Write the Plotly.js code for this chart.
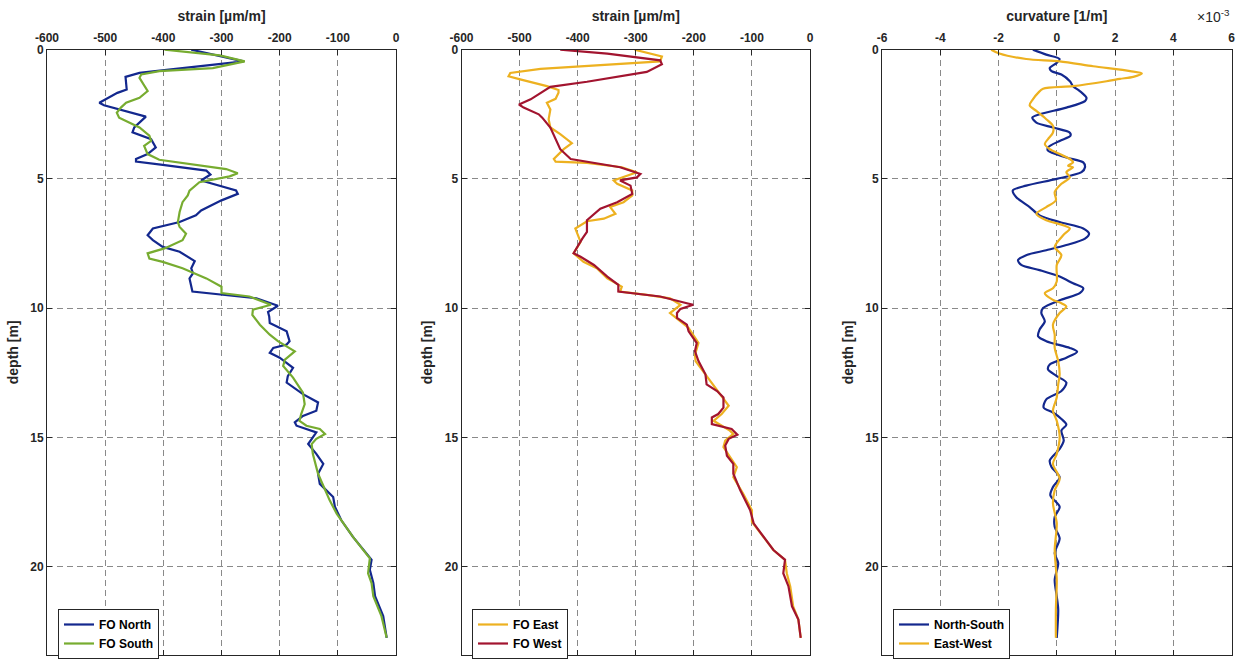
<!DOCTYPE html>
<html>
<head>
<meta charset="utf-8">
<script src="https://cdn.plot.ly/plotly-3.0.1.min.js"></script>
<style>
html,body{margin:0;padding:0;background:#fff;}
#chart{width:1239px;height:659px;}
</style>
</head>
<body>
<div id="chart"></div>
<script>
// ---------- data ----------
// Panel 1: strain, FO North / FO South
const northDepth = [0, 0.45, 0.9, 1.05, 1.54, 1.67, 2.05, 2.15, 2.59, 3.01, 3.2, 3.46, 3.78, 4.04, 4.23, 4.33, 4.46, 4.68, 4.83, 5.06, 5.45, 5.58, 5.83, 6.22, 6.41, 6.67, 6.92, 7.18, 7.37, 7.63, 7.82, 8.08, 8.18, 8.46, 8.65, 8.85, 9.36, 9.62, 9.91, 10.15, 10.32, 10.58, 10.9, 11.28, 11.41, 11.54, 11.73, 11.92, 12.31, 12.63, 12.88, 13.33, 13.65, 13.97, 14.17, 14.42, 14.55, 14.81, 15.26, 15.64, 16.03, 16.41, 16.8, 17.31, 17.69, 18.21, 18.85, 19.74, 20.13, 20.64, 21.15, 21.92, 22.76];
const northStrain = [-352, -262, -441, -465, -463, -479, -510, -502, -430, -450, -453, -421, -413, -427, -447, -447, -401, -326, -319, -335, -275, -272, -300, -335, -344, -372, -418, -427, -418, -401, -372, -352, -346, -352, -349, -355, -350, -240, -203, -220, -218, -217, -188, -183, -188, -211, -217, -200, -177, -186, -188, -160, -134, -137, -160, -174, -171, -137, -151, -137, -125, -134, -131, -108, -105, -94, -74, -42, -45, -39, -36, -22, -16];
const southDepth = [0, 0.22, 0.45, 0.71, 0.83, 0.96, 1.09, 1.28, 1.6, 1.86, 2.05, 2.24, 2.44, 2.63, 3.01, 3.33, 3.53, 3.72, 4.04, 4.26, 4.42, 4.62, 4.78, 4.9, 5.13, 5.45, 5.64, 5.9, 6.28, 6.67, 6.86, 7.12, 7.37, 7.69, 7.88, 8.08, 8.21, 8.46, 8.85, 9.17, 9.42, 9.55, 9.87, 10.06, 10.26, 10.64, 11.03, 11.28, 11.67, 11.99, 12.24, 12.69, 13.27, 13.72, 14.1, 14.36, 14.55, 14.68, 14.87, 15.06, 15.26, 15.64, 16.41, 17.05, 17.44, 17.95, 18.85, 19.68, 20.26, 20.64, 21.15, 21.92, 22.76];
const southStrain = [-398, -303, -260, -315, -407, -438, -441, -436, -427, -441, -464, -473, -480, -476, -441, -424, -421, -433, -427, -407, -355, -292, -272, -286, -338, -355, -358, -367, -372, -375, -372, -361, -367, -398, -427, -424, -401, -367, -326, -300, -300, -252, -215, -246, -247, -234, -217, -203, -174, -191, -194, -177, -160, -157, -163, -166, -154, -131, -122, -137, -145, -143, -134, -122, -114, -102, -74, -45, -48, -42, -39, -25, -16];

// Panel 2: strain, FO East / FO West
const eastDepth = [0, 0.26, 0.45, 0.58, 0.74, 0.9, 1.03, 1.15, 1.41, 1.56, 1.67, 1.9, 2.05, 2.31, 2.69, 3.01, 3.27, 3.62, 3.85, 4.23, 4.33, 4.38, 4.55, 4.74, 4.87, 5.06, 5.19, 5.45, 5.64, 5.9, 6.09, 6.35, 6.54, 6.64, 6.92, 7.12, 7.44, 7.88, 8.21, 8.46, 8.85, 9.17, 9.36, 9.49, 9.62, 9.87, 10.06, 10.19, 10.51, 10.77, 11.35, 11.8, 12.05, 12.56, 13.21, 13.78, 14.1, 14.36, 14.74, 14.87, 15.13, 15.38, 16.15, 16.54, 17.18, 17.82, 18.27, 19.36, 19.74, 20.26, 20.77, 21.54, 22.05, 22.76];
const eastStrain = [-302, -255, -258, -349, -464, -516, -519, -499, -453, -433, -433, -438, -453, -447, -450, -447, -430, -410, -424, -441, -438, -384, -324, -298, -315, -338, -332, -306, -306, -321, -344, -335, -355, -384, -404, -401, -395, -407, -390, -367, -349, -324, -327, -281, -241, -223, -235, -241, -223, -209, -192, -198, -197, -180, -158, -140, -152, -166, -138, -132, -146, -149, -126, -132, -115, -100, -100, -63, -43, -40, -34, -29, -20, -16];
const westDepth = [0, 0.15, 0.41, 0.56, 0.86, 1.12, 1.24, 1.44, 1.67, 1.92, 2.12, 2.24, 2.5, 2.63, 3.01, 3.46, 3.85, 4.23, 4.36, 4.55, 4.81, 4.94, 5.06, 5.26, 5.58, 5.9, 6.15, 6.41, 6.6, 7.05, 7.31, 7.76, 7.88, 8.01, 8.33, 8.78, 9.1, 9.36, 9.55, 9.81, 9.87, 10.03, 10.19, 10.38, 10.64, 10.9, 11.35, 11.67, 12.05, 12.56, 12.95, 13.21, 13.46, 13.85, 14.1, 14.23, 14.49, 14.68, 14.9, 15.06, 15.32, 15.71, 16.03, 16.41, 17.05, 17.82, 18.33, 19.36, 19.74, 20.26, 20.77, 21.54, 22.05, 22.76];
const westStrain = [-430, -349, -258, -255, -281, -349, -384, -447, -464, -481, -501, -493, -467, -461, -447, -438, -430, -412, -378, -327, -292, -298, -327, -309, -306, -332, -361, -375, -384, -384, -392, -404, -407, -395, -372, -349, -330, -330, -258, -212, -201, -223, -229, -229, -212, -209, -195, -198, -192, -180, -178, -160, -149, -149, -158, -169, -169, -135, -125, -140, -146, -143, -132, -132, -120, -103, -97, -63, -43, -46, -37, -31, -20, -16];

// Panel 3: curvature (x 10^-3 1/m), North-South / East-West
const nsDepth = [0, 0.19, 0.36, 0.51, 0.71, 0.83, 0.96, 1.22, 1.41, 1.6, 1.86, 1.99, 2.24, 2.5, 2.63, 2.82, 3.01, 3.21, 3.33, 3.53, 3.78, 3.91, 4.17, 4.36, 4.55, 4.74, 5.0, 5.26, 5.45, 5.71, 6.09, 6.41, 6.67, 6.92, 7.12, 7.31, 7.56, 7.76, 7.95, 8.14, 8.33, 8.53, 8.78, 9.04, 9.23, 9.42, 9.68, 10.0, 10.19, 10.51, 10.83, 11.09, 11.28, 11.54, 11.69, 11.92, 12.18, 12.37, 12.63, 12.88, 13.21, 13.53, 13.85, 14.04, 14.29, 14.51, 14.74, 15.13, 15.45, 15.9, 16.15, 16.54, 16.92, 17.24, 17.69, 18.08, 18.46, 18.91, 19.49, 19.87, 20.51, 21.15, 21.67, 22.76];
const nsCurv = [-0.82, -0.36, 0.1, 0, -0.24, -0.18, 0.16, 0.45, 0.56, 0.79, 1.02, 0.97, 0.33, -0.59, -0.84, -0.7, -0.13, 0.45, 0.47, 0.1, -0.3, -0.3, 0.33, 0.91, 0.97, 0.85, 0, -1.05, -1.51, -1.39, -0.93, -0.59, 0.1, 0.91, 1.11, 0.97, 0.33, -0.36, -1.05, -1.33, -1.22, -0.59, 0.1, 0.56, 0.91, 0.79, 0.15, -0.47, -0.53, -0.41, -0.59, -0.64, -0.36, 0.45, 0.7, 0.33, -0.24, -0.3, 0, 0.33, 0.16, -0.36, -0.45, -0.13, 0.16, 0.33, 0.16, 0.24, 0.1, -0.24, -0.18, 0.1, -0.13, -0.22, 0.1, -0.07, -0.07, 0.1, -0.07, 0.05, -0.07, 0, 0.05, 0];
const ewDepth = [0, 0.15, 0.36, 0.45, 0.64, 0.83, 0.92, 1.05, 1.13, 1.22, 1.41, 1.51, 1.67, 1.92, 2.15, 2.37, 2.69, 2.95, 3.21, 3.46, 3.65, 3.85, 4.04, 4.23, 4.36, 4.49, 4.55, 4.74, 4.94, 5.19, 5.51, 5.83, 6.09, 6.35, 6.6, 6.79, 6.92, 7.18, 7.63, 7.95, 8.33, 8.97, 9.23, 9.42, 9.68, 9.81, 9.94, 10.19, 10.64, 11.03, 11.54, 12.05, 12.56, 12.95, 13.46, 13.97, 14.36, 15.0, 15.64, 16.03, 16.6, 17.05, 17.56, 18.33, 19.36, 20.51, 21.67, 22.76];
const ewCurv = [-2.25, -1.97, -1.05, 0.1, 1.25, 2.52, 2.92, 2.63, 2.17, 1.71, 0.56, -0.47, -0.64, -0.82, -0.93, -0.7, -0.36, -0.13, -0.13, -0.3, -0.41, -0.24, 0.1, 0.45, 0.56, 0.39, 0.56, 0.33, 0.45, 0.16, -0.07, -0.03, -0.36, -0.7, -0.36, 0.22, 0.45, 0.22, -0.07, 0.16, 0, 0, -0.13, -0.41, -0.13, 0.16, 0.33, 0.1, -0.13, -0.07, -0.07, 0.05, 0.1, 0.05, 0, -0.13, 0, 0.1, 0, -0.13, 0.1, -0.07, -0.13, 0, -0.07, 0, -0.03, -0.03];

// tick labels
const strainTicks = [-600, -500, -400, -300, -200, -100, 0];
const strainTickText = ['-600', '-500', '-400', '-300', '-200', '-100', '0'];
const curvTicks = [-6, -4, -2, 0, 2, 4, 6];
const curvTickText = ['-6', '-4', '-2', '0', '2', '4', '6'];
const depthTicks = [0, 5, 10, 15, 20];
const depthTickText = ['0', '5', '10', '15', '20'];

// ---------- styling ----------
const W = 1239, H = 659;
const FONT = 'Liberation Sans, Arial, Helvetica, sans-serif';
const INK = '#262626';
const C_BLUE = '#13288e', C_GREEN = '#77ac30', C_ORANGE = '#edb120', C_RED = '#a2142f';

const plotTop = 50;
const depthMax = (H - plotTop) / 26;  // 26 px per metre
const yDom = [0, 1 - plotTop / H];

function xAxis(l, r, range, tv, tt, title) {
  return {
    domain: [l / W, r / W], range: range, side: 'top',
    tickmode: 'array', tickvals: tv, ticktext: tt,
    ticks: 'inside', ticklen: 5, tickwidth: 1, tickcolor: INK,
    ticklabelstandoff: 2,
    showline: true, linecolor: INK, linewidth: 1, mirror: 'allticks',
    showgrid: true, gridcolor: '#8a8a8a', gridwidth: 1, griddash: '6px,4px',
    zeroline: false, fixedrange: true,
    tickfont: {family: FONT, size: 12, color: INK, weight: 'bold'},
    title: {text: title, font: {family: FONT, size: 14, color: INK, weight: 'bold'}, standoff: 5}
  };
}
function yAxis() {
  return {
    domain: yDom, range: [depthMax, 0],
    tickmode: 'array', tickvals: depthTicks, ticktext: depthTickText,
    ticks: 'inside', ticklen: 5, tickwidth: 1, tickcolor: INK,
    showline: true, linecolor: INK, linewidth: 1, mirror: 'allticks',
    showgrid: true, gridcolor: '#8a8a8a', gridwidth: 1, griddash: '6px,4px',
    zeroline: false, fixedrange: true,
    tickfont: {family: FONT, size: 12, color: INK, weight: 'bold'},
    title: {text: 'depth [m]', font: {family: FONT, size: 14, color: INK, weight: 'bold'}, standoff: 8}
  };
}
function legendBox(x) {
  return {
    x: x / W, y: 1 - 613 / H, xanchor: 'left', yanchor: 'top',
    bgcolor: '#ffffff', bordercolor: INK, borderwidth: 1,
    font: {family: FONT, size: 12, color: '#000', weight: 'bold'},
    tracegroupgap: 0, itemclick: false
  };
}

const traces = [
  {x: northStrain, y: northDepth, name: 'FO North', xaxis: 'x', yaxis: 'y', legend: 'legend', mode: 'lines', line: {color: C_BLUE, width: 2.2}},
  {x: southStrain, y: southDepth, name: 'FO South', xaxis: 'x', yaxis: 'y', legend: 'legend', mode: 'lines', line: {color: C_GREEN, width: 2.2}},
  {x: eastStrain, y: eastDepth, name: 'FO East', xaxis: 'x2', yaxis: 'y2', legend: 'legend2', mode: 'lines', line: {color: C_ORANGE, width: 2.2}},
  {x: westStrain, y: westDepth, name: 'FO West', xaxis: 'x2', yaxis: 'y2', legend: 'legend2', mode: 'lines', line: {color: C_RED, width: 2.2}},
  {x: nsCurv, y: nsDepth, name: 'North-South', xaxis: 'x3', yaxis: 'y3', legend: 'legend3', mode: 'lines', line: {color: C_BLUE, width: 2.2, shape: 'spline', smoothing: 0.8}},
  {x: ewCurv, y: ewDepth, name: 'East-West', xaxis: 'x3', yaxis: 'y3', legend: 'legend3', mode: 'lines', line: {color: C_ORANGE, width: 2.2, shape: 'spline', smoothing: 0.8}}
];

const layout = {
  width: W, height: H,
  margin: {l: 0, r: 0, t: 0, b: 0},
  paper_bgcolor: '#ffffff', plot_bgcolor: '#ffffff',
  showlegend: true,
  font: {family: FONT, color: INK},
  xaxis: Object.assign(xAxis(47, 396, [-600, 0], strainTicks, strainTickText, 'strain [µm/m]'), {anchor: 'y'}),
  yaxis: Object.assign(yAxis(), {anchor: 'x'}),
  xaxis2: Object.assign(xAxis(461.5, 810, [-600, 0], strainTicks, strainTickText, 'strain [µm/m]'), {anchor: 'y2'}),
  yaxis2: Object.assign(yAxis(), {anchor: 'x2'}),
  xaxis3: Object.assign(xAxis(882, 1231.5, [-6, 6], curvTicks, curvTickText, 'curvature [1/m]'), {anchor: 'y3'}),
  yaxis3: Object.assign(yAxis(), {anchor: 'x3'}),
  legend: legendBox(58),
  legend2: legendBox(472),
  legend3: legendBox(893),
  annotations: [{
    xref: 'paper', yref: 'paper', x: 1232 / W, y: 1 - 16 / H,
    xanchor: 'right', yanchor: 'middle', showarrow: false,
    text: '×10<sup>-3</sup>',
    font: {family: FONT, size: 14, color: INK}
  }]
};

Plotly.newPlot('chart', traces, layout, {displayModeBar: false, staticPlot: true});
</script>
</body>
</html>
